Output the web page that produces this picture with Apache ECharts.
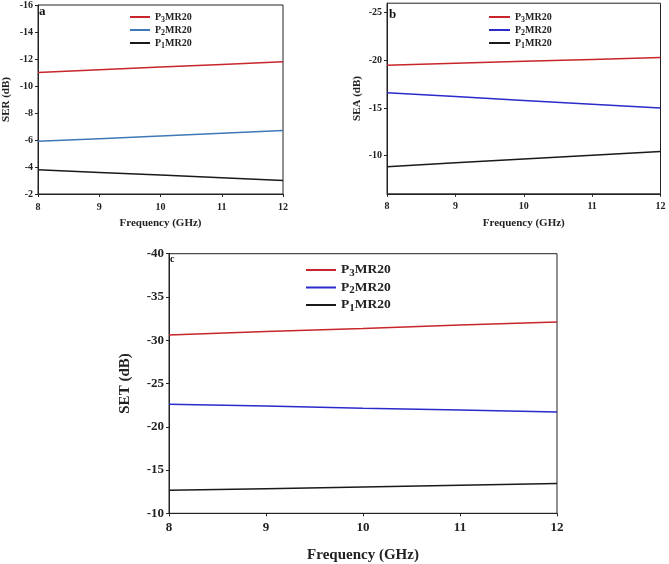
<!DOCTYPE html>
<html><head><meta charset="utf-8">
<script src="https://cdn.jsdelivr.net/npm/echarts@6/dist/echarts.min.js"></script>
<style>html,body{margin:0;padding:0;background:#fff}#c{width:669px;height:564px}</style>
</head><body><div id="c"></div>
<script>
const freq = [8, 9, 10, 11, 12];
const legendNames = ['P3MR20', 'P2MR20', 'P1MR20'];
// panel a: SER (dB)
const serP3 = [-11.0, -11.2, -11.4, -11.6, -11.8];
const serP2 = [-5.9, -6.1, -6.3, -6.5, -6.7];
const serP1 = [-3.8, -3.6, -3.4, -3.2, -3.0];
// panel b: SEA (dB)
const seaP3 = [-19.5, -19.7, -19.9, -20.1, -20.3];
const seaP2 = [-16.6, -16.2, -15.8, -15.4, -15.0];
const seaP1 = [-8.85, -9.25, -9.65, -10.05, -10.45];
const seaTicks = [-25, -20, -15, -10];
// panel c: SET (dB)
const setP3 = [-30.6, -31.0, -31.35, -31.75, -32.1];
const setP2 = [-22.6, -22.4, -22.15, -21.95, -21.7];
const setP1 = [-12.65, -12.85, -13.05, -13.25, -13.45];

const FONT = '"Liberation Serif", "DejaVu Serif", serif';
const red = '#c8262b', blueA = '#3f78b8', blue = '#2b2bcc', black = '#1a1a1a';

function pts(v){ return freq.map((f,i)=>[f, v[i]]); }
function legendFmt(name){
  const n = name.split('_')[1];
  return '{b|P}{s|' + n.charAt(1) + '}{b|' + n.slice(2) + '}';
}
function richFor(size){
  return { b:{fontFamily:FONT,fontWeight:'bold',fontSize:size,color:'#222'},
           s:{fontFamily:FONT,fontWeight:'bold',fontSize:Math.round(size*0.8),color:'#222',padding:[Math.round(size*0.45),0,0,0]} };
}
function xAx(gi, fs, gap, nfs){
  return {type:'value', gridIndex:gi, min:8, max:12, interval:1,
    name:'Frequency (GHz)', nameLocation:'middle', nameGap:gap,
    nameTextStyle:{fontFamily:FONT,fontWeight:'bold',fontSize:nfs,color:'#222'},
    axisLine:{lineStyle:{color:'#222',width:1}}, axisTick:{length:3,lineStyle:{color:'#222'}},
    axisLabel:{fontFamily:FONT,fontWeight:'bold',fontSize:fs,color:'#222',margin:8},
    splitLine:{show:false}};
}
function yAx(gi, name, min, max, interval, fs, gap, nfs, custom){
  const ax = {type:'value', gridIndex:gi, min:min, max:max, interval:interval, inverse:true,
    name:name, nameLocation:'middle', nameGap:gap,
    nameTextStyle:{fontFamily:FONT,fontWeight:'bold',fontSize:nfs,color:'#222'},
    axisLine:{show:true,lineStyle:{color:'#222',width:1}}, axisTick:{length:3,lineStyle:{color:'#222'}},
    axisLabel:{fontFamily:FONT,fontWeight:'bold',fontSize:fs,color:'#222',margin:5},
    splitLine:{show:false}};
  if (custom){ ax.axisTick.customValues = custom; ax.axisLabel.customValues = custom; }
  return ax;
}
function ser(name, data, color, gi){
  return {type:'line', name:name, xAxisIndex:gi, yAxisIndex:gi, data:pts(data), symbol:'none',
    lineStyle:{color:color,width:1.5}, itemStyle:{color:color}, animation:false};
}
function leg(prefix, left, top, size, gap, iw){
  return {orient:'vertical', left:left, top:top, itemGap:gap, itemWidth:iw, itemHeight:2, icon:'rect', padding:0,
    data:legendNames.map(n=>prefix+'_'+n), formatter:legendFmt,
    textStyle:{rich:richFor(size)}, selectedMode:false};
}

const chart = echarts.init(document.getElementById('c'), null, {renderer:'canvas'});
chart.setOption({
  backgroundColor:'#fff',
  animation:false,
  grid:[
    {left:37, top:4, width:246, height:190, show:true, borderColor:'#222', borderWidth:1},
    {left:387, top:3.2, width:273.5, height:190.6, show:true, borderColor:'#222', borderWidth:1},
    {left:169, top:253.7, width:388, height:259.6, show:true, borderColor:'#222', borderWidth:1}
  ],
  title:[
    {text:'a', left:39, top:5, padding:0, textStyle:{fontFamily:FONT,fontWeight:'bold',fontSize:13,color:'#111'}},
    {text:'b', left:389, top:8, padding:0, textStyle:{fontFamily:FONT,fontWeight:'bold',fontSize:13,color:'#111'}},
    {text:'c', left:170, top:254, padding:0, textStyle:{fontFamily:FONT,fontWeight:'bold',fontSize:10,color:'#111'}}
  ],
  legend:[
    leg('a', 130, 12, 10, 1.5, 20),
    leg('b', 489, 12, 10, 1.5, 21),
    leg('c', 306, 263, 13.5, 2, 30)
  ],
  xAxis:[ xAx(0, 10, 24, 11), xAx(1, 10, 24, 11), xAx(2, 13, 34, 15) ],
  yAxis:[
    yAx(0, 'SER (dB)', -16, -2, 2, 10, 26, 11),
    yAx(1, 'SEA (dB)', -26, -6, 1, 10, 24, 11, seaTicks),
    yAx(2, 'SET (dB)', -40, -10, 5, 13, 36, 15)
  ],
  series:[
    ser('a_P3MR20', serP3, red, 0), ser('a_P2MR20', serP2, blueA, 0), ser('a_P1MR20', serP1, black, 0),
    ser('b_P3MR20', seaP3, red, 1), ser('b_P2MR20', seaP2, blue, 1), ser('b_P1MR20', seaP1, black, 1),
    ser('c_P3MR20', setP3, red, 2), ser('c_P2MR20', setP2, blue, 2), ser('c_P1MR20', setP1, black, 2)
  ]
});
</script></body></html>
